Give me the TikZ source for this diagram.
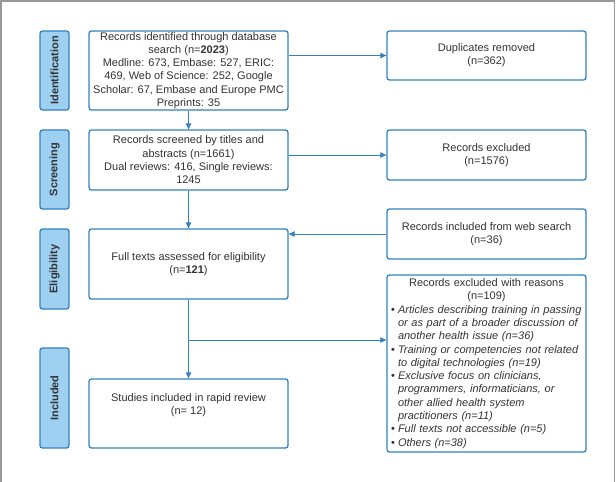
\documentclass[tikz,border=0pt]{standalone}
\usepackage{fontspec}
\setmainfont{Liberation Sans}
\usetikzlibrary{arrows.meta}
\definecolor{edge}{HTML}{3282C0}
\definecolor{stagefill}{HTML}{9ED0F2}
\definecolor{txt}{HTML}{333333}
\definecolor{frame}{HTML}{9A9A9A}
\begin{document}
\begin{tikzpicture}[x=1pt,y=-1pt,
  box/.style={draw=edge, line width=1.3pt, rounded corners=2.5pt, fill=white,
    minimum width=199pt, inner xsep=4pt, inner ysep=0pt, align=center,
    text=txt, font=\fontsize{11}{13.3}\selectfont},
  stagebox/.style={draw=edge, line width=1.3pt, rounded corners=2.5pt, fill=stagefill,
    minimum height=29pt, inner sep=0pt, rotate=90, text=txt,
    font=\fontsize{11}{13.3}\selectfont\bfseries},
  txtnode/.style={text=txt, align=center, inner sep=0pt, font=\fontsize{11}{13.3}\selectfont},
  arr/.style={draw=edge, line width=1pt, -{Triangle[length=6pt,width=5.5pt]}},
  ln/.style={draw=edge, line width=1pt}]
\useasboundingbox (0,0) rectangle (616,482);
% frame
\draw[frame, line width=1.5pt] (1,482) -- (1,1) -- (614.5,1) -- (614.5,482);
% stage labels
\node[stagebox, minimum width=79pt] (s1) at (54.5,70.5) {Identification};
\node[stagebox, minimum width=79pt] (s2) at (54.5,169.5) {Screening};
\node[stagebox, minimum width=80pt] (s3) at (54.5,269) {Eligibility};
\node[stagebox, minimum width=100pt] (s4) at (54.5,398) {Included};
% left column
\node[box, minimum height=79pt] (b1) at (188.5,70.5) {Records identified through database\\search (n=\textbf{2023})\\Medline: 673, Embase: 527, ERIC:\\469, Web of Science: 252, Google\\Scholar: 67, Embase and Europe PMC\\Preprints: 35};
\node[box, minimum height=60pt] (b2) at (188.5,160) {Records screened by titles and\\abstracts (n=1661)\\Dual reviews: 416, Single reviews:\\1245};
\node[box, minimum height=70pt] (b3) at (188.5,264) {Full texts assessed for eligibility\\(n=\textbf{121})};
\node[box, minimum height=69pt] (b4) at (188.5,413.5) {};
\node[txtnode] (t4) at (188.5,405) {Studies included in rapid review\\(n= 12)};
% right column
\node[box, minimum height=49pt] (dup) at (486.5,55.5) {Duplicates removed\\(n=362)};
\node[box, minimum height=50pt] (ex) at (486.5,155) {Records excluded\\(n=1576)};
\node[box, minimum height=50pt] (web) at (486.5,234) {Records included from web search\\(n=36)};
\node[box, minimum height=177pt, text width=191pt, align=left] (rs) at (486.5,363.5) {%
\makebox[191pt][c]{Records excluded with reasons}\\
\makebox[191pt][c]{(n=109)}\\
\makebox[7pt][l]{\textbullet}\textit{Articles describing training in passing}\\
\hspace*{7pt}\textit{or as part of a broader discussion of}\\
\hspace*{7pt}\textit{another health issue (n=36)}\\
\makebox[7pt][l]{\textbullet}\textit{Training or competencies not related}\\
\hspace*{7pt}\textit{to digital technologies (n=19)}\\
\makebox[7pt][l]{\textbullet}\textit{Exclusive focus on clinicians,}\\
\hspace*{7pt}\textit{programmers, informaticians, or}\\
\hspace*{7pt}\textit{other allied health system}\\
\hspace*{7pt}\textit{practitioners (n=11)}\\
\makebox[7pt][l]{\textbullet}\textit{Full texts not accessible (n=5)}\\
\makebox[7pt][l]{\textbullet}\textit{Others (n=38)}};
% connectors
\draw[arr] (b1.east |- dup.west) -- (dup.west);
\draw[arr] (b2.east |- ex.west) -- (ex.west);
\draw[arr] (b1.south) -- (b2.north);
\draw[arr] (b2.south) -- (b3.north);
\draw[arr] (web.west) -- (web.west -| b3.east);
\draw[arr] (b3.south) -- (b4.north);
\coordinate (br) at (188.5,340);
\draw[arr] (br) -- (rs.west |- br);
\end{tikzpicture}
\end{document}
